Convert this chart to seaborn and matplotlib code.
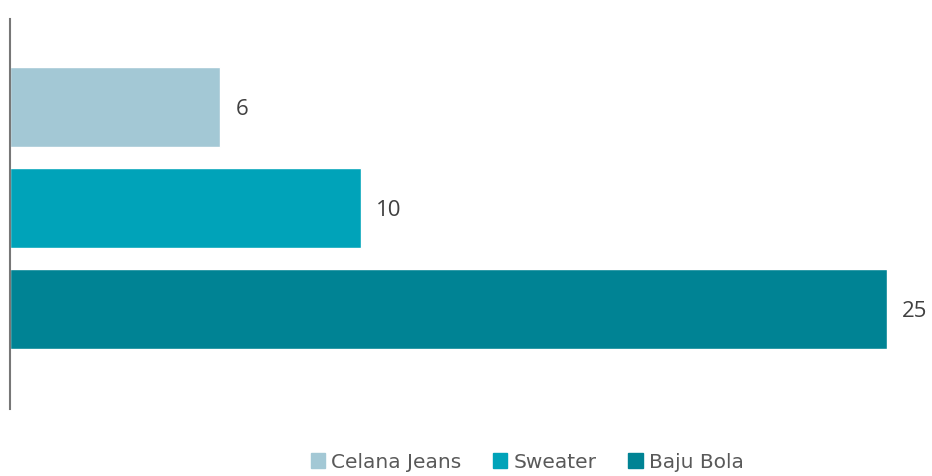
import pandas as pd
import seaborn as sns
import matplotlib.pyplot as plt

categories = ["Celana Jeans", "Sweater", "Baju Bola"]
values = [6, 10, 25]
colors = ["#a3c8d5", "#00a3b9", "#008394"]

sns.set_theme(style="white")
plt.rcParams["font.family"] = ["Open Sans", "DejaVu Sans"]

df = pd.DataFrame({"item": categories, "count": values})

fig = plt.figure(figsize=(9.32, 4.77), dpi=100)
W, H = 932, 477
ax = fig.add_axes([10 / W, 1 - 410 / H, 877 / W, 390 / H])

sns.barplot(data=df, x="count", y="item", hue="item", order=categories,
            hue_order=categories, palette=colors, width=0.8,
            saturation=1, legend=False, ax=ax)

ax.set_xlim(0, 25)
ax.set_ylim(2.99, -0.871)
for s in ["top", "right", "bottom"]:
    ax.spines[s].set_visible(False)
ax.spines["left"].set_color("#777777")
ax.spines["left"].set_linewidth(1.5)
ax.set_xticks([])
ax.set_yticks([])
ax.set_xlabel("")
ax.set_ylabel("")

for i, v in enumerate(values):
    ax.annotate(str(v), (v, i), xytext=(11, -1), textcoords="offset points",
                va="center", ha="left", fontsize=16, color="#404040",
                annotation_clip=False)

handles = [plt.Rectangle((0, 0), 1, 1, color=c) for c in colors]
fig.legend(handles, categories, loc="center", ncol=3,
           bbox_to_anchor=(527 / W, 1 - 463 / H), frameon=False,
           prop={"family": "DejaVu Sans", "size": 14.5},
           labelcolor="#595959", handlelength=0.7, handleheight=0.7,
           handletextpad=0.3, columnspacing=1.6)

fig.savefig("out.png", dpi=100)
